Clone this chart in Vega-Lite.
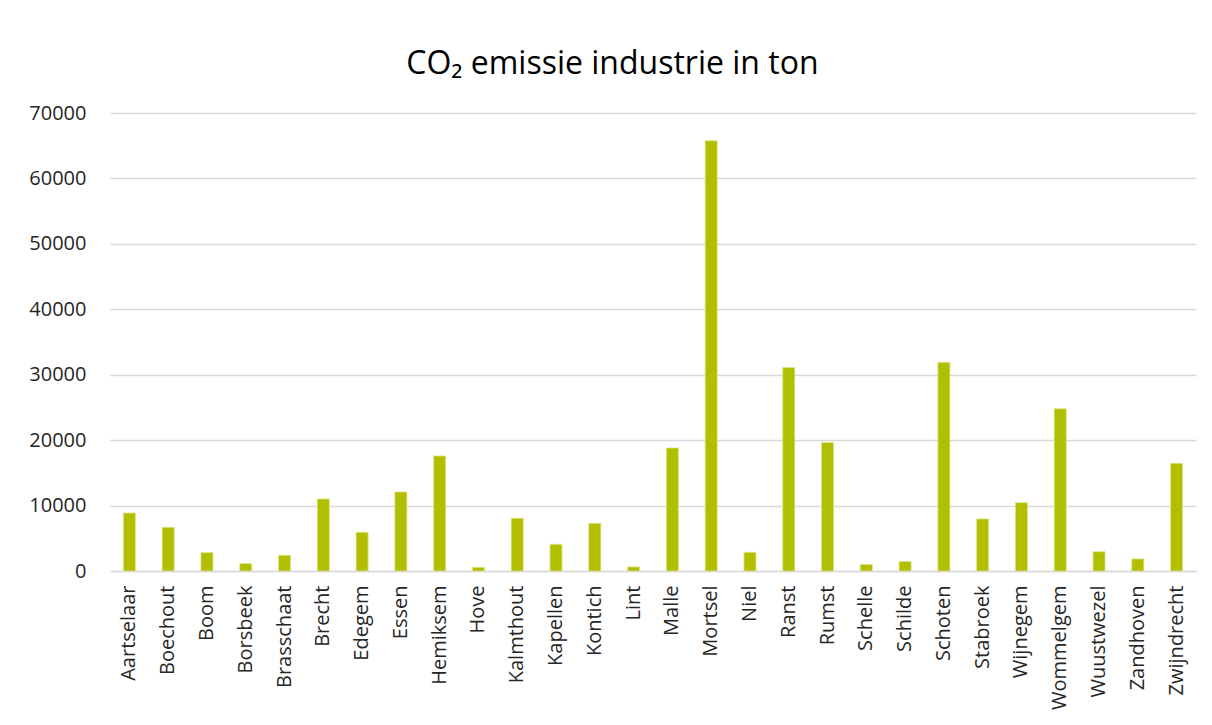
{
  "$schema": "https://vega.github.io/schema/vega-lite/v6.json",
  "width": 1086,
  "height": 458,
  "padding": {"left": 28, "top": 48, "right": 15, "bottom": 0},
  "background": "white",
  "title": {
    "text": "CO₂ emissie industrie in ton",
    "font": "Open Sans",
    "fontSize": 32,
    "fontWeight": "normal",
    "color": "#000000",
    "anchor": "middle",
    "frame": "bounds",
    "offset": 22
  },
  "data": {
    "values": [
      {"gemeente": "Aartselaar", "co2": 8870},
      {"gemeente": "Boechout", "co2": 6680},
      {"gemeente": "Boom", "co2": 2810},
      {"gemeente": "Borsbeek", "co2": 1130},
      {"gemeente": "Brasschaat", "co2": 2400},
      {"gemeente": "Brecht", "co2": 11010},
      {"gemeente": "Edegem", "co2": 5920},
      {"gemeente": "Essen", "co2": 12080},
      {"gemeente": "Hemiksem", "co2": 17590},
      {"gemeente": "Hove", "co2": 570},
      {"gemeente": "Kalmthout", "co2": 8060},
      {"gemeente": "Kapellen", "co2": 4080},
      {"gemeente": "Kontich", "co2": 7290},
      {"gemeente": "Lint", "co2": 620},
      {"gemeente": "Malle", "co2": 18810},
      {"gemeente": "Mortsel", "co2": 65760},
      {"gemeente": "Niel", "co2": 2860},
      {"gemeente": "Ranst", "co2": 31100},
      {"gemeente": "Rumst", "co2": 19650},
      {"gemeente": "Schelle", "co2": 1000},
      {"gemeente": "Schilde", "co2": 1450},
      {"gemeente": "Schoten", "co2": 31900},
      {"gemeente": "Stabroek", "co2": 7950},
      {"gemeente": "Wijnegem", "co2": 10450},
      {"gemeente": "Wommelgem", "co2": 24800},
      {"gemeente": "Wuustwezel", "co2": 2950},
      {"gemeente": "Zandhoven", "co2": 1850},
      {"gemeente": "Zwijndrecht", "co2": 16450}
    ]
  },
  "mark": {"type": "bar", "color": "#B2BF00", "stroke": "#DDE38A", "strokeWidth": 0.8},
  "encoding": {
    "x": {
      "field": "gemeente",
      "type": "nominal",
      "sort": null,
      "title": null,
      "scale": {"paddingInner": 0.69, "paddingOuter": 0.345},
      "axis": {
        "labelAngle": -90,
        "labelFont": "Open Sans",
        "labelFontSize": 20,
        "labelColor": "#262626",
        "labelPadding": 14,
        "ticks": false,
        "domainColor": "#D9D9D9",
        "domainWidth": 1.5,
        "grid": false
      }
    },
    "y": {
      "field": "co2",
      "type": "quantitative",
      "title": null,
      "scale": {"domain": [0, 70000], "nice": false},
      "axis": {
        "values": [0, 10000, 20000, 30000, 40000, 50000, 60000, 70000],
        "format": "d",
        "labelFont": "Open Sans",
        "labelFontSize": 20,
        "labelColor": "#262626",
        "labelPadding": 24,
        "ticks": false,
        "domain": false,
        "grid": true,
        "gridColor": "#D9D9D9",
        "gridWidth": 1.5
      }
    }
  },
  "config": {"view": {"stroke": null}}
}
